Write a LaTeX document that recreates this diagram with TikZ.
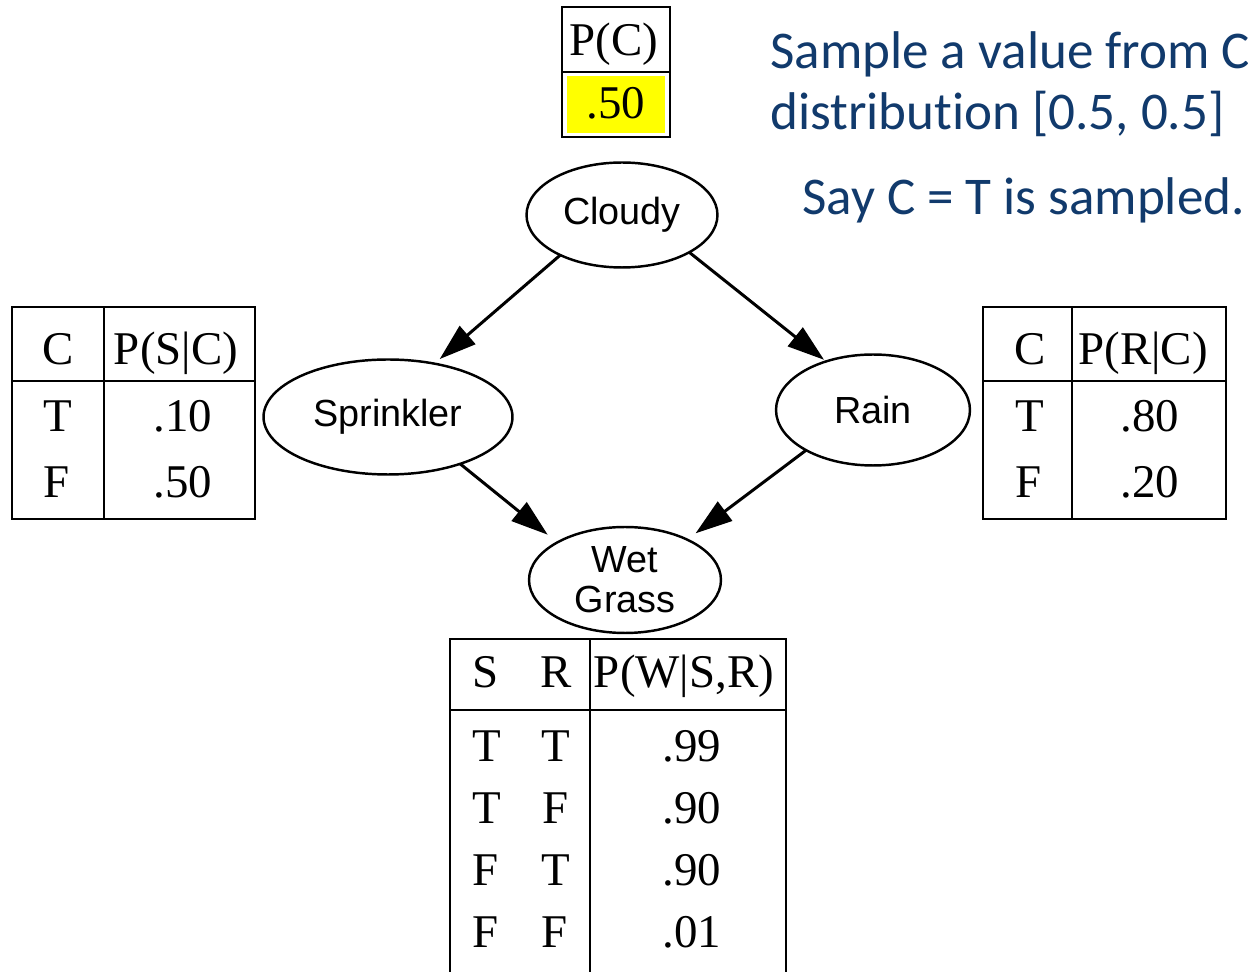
\documentclass[tikz,border=0pt]{standalone}
\usepackage{fontspec}
\setmainfont{Liberation Serif}
\newfontfamily\nodefont{Liberation Sans}
\newfontfamily\notefont[Ligatures=NoCommon]{Carlito}
\usetikzlibrary{arrows.meta,shapes.geometric}
\definecolor{noteblue}{HTML}{113A6C}
\definecolor{cptyellow}{HTML}{FFFF00}

\begin{document}
\begin{tikzpicture}[x=0.02cm,y=-0.02cm,
  var/.style={ellipse, draw, line width=1.4pt, inner sep=0pt, outer sep=0pt,
    font=\nodefont\fontsize{21.5}{22.7}\selectfont, align=center},
  edge/.style={line width=1.7pt, -{Triangle[length=21pt,width=13.5pt]}},
  grid/.style={line width=1.6pt},
  cell/.style={anchor=base, inner sep=0pt, font=\fontsize{26.7}{30}\selectfont},
  note/.style={anchor=base west, inner sep=0pt, text=noteblue,
    font=\notefont\fontsize{30.2}{36}\selectfont}]
\useasboundingbox (0,0) rectangle (1248,972);

% ---- network nodes
\node[var, minimum width=3.82cm, minimum height=2.1cm]  (cloudy)    at (622,215) {Cloudy};
\node[var, minimum width=4.98cm, minimum height=2.3cm]  (sprinkler) at (388,417) {Sprinkler};
\node[var, minimum width=3.88cm, minimum height=2.22cm] (rain)      at (873,410) {Rain};
\node[var, minimum width=3.84cm, minimum height=2.12cm] (wet)       at (625,580) {Wet\\Grass};

% ---- edges
\draw[edge, shorten >=4pt]   (cloudy.213)    -- (sprinkler.49);
\draw[edge, shorten >=1.5pt] (cloudy.-29)    -- (rain.134);
\draw[edge, shorten >=7pt]   (sprinkler.-33) -- (wet.151);
\draw[edge, shorten >=6pt]   (rain.211)      -- (wet.33);

% ---- P(C) table
\fill[cptyellow] (567,76) rectangle (665,133);
\draw[grid] (562,7) rectangle (670,137);
\draw[grid] (562,72) -- (670,72);
\node[cell] (pc)  at (614,56)  {P(C)};
\node[cell] (pc1) at (616,119) {.50};

% ---- P(S|C) table
\draw[grid] (12,307) rectangle (255,519);
\draw[grid] (12,381) -- (255,381);
\draw[grid] (104,307) -- (104,519);
\node[cell] (sh1) at (58,365)  {C};
\node[cell] (sh2) at (176,365) {P(S|C)};
\node[cell] (sa1) at (58,432)  {T};
\node[cell] (sa2) at (183,432) {.10};
\node[cell] (sb1) at (57,498)  {F};
\node[cell] (sb2) at (183,498) {.50};

% ---- P(R|C) table
\draw[grid] (983,307) rectangle (1226,519);
\draw[grid] (983,381) -- (1226,381);
\draw[grid] (1072,307) -- (1072,519);
\node[cell] (rh1) at (1030,365) {C};
\node[cell] (rh2) at (1143,365) {P(R|C)};
\node[cell] (ra1) at (1030,432) {T};
\node[cell] (ra2) at (1150,432) {.80};
\node[cell] (rb1) at (1029,498) {F};
\node[cell] (rb2) at (1150,498) {.20};

% ---- P(W|S,R) table (runs past the lower edge)
\draw[grid] (450,990) -- (450,639) -- (786,639) -- (786,990);
\draw[grid] (450,710) -- (786,710);
\draw[grid] (590,639) -- (590,990);
\node[cell] (wh1) at (486,688) {S};
\node[cell] (wh2) at (556,688) {R};
\node[cell] (wh3) at (684,688) {P(W|S,R)};
\node[cell] (w11) at (487,762) {T};
\node[cell] (w12) at (556,762) {T};
\node[cell] (w13) at (692,762) {.99};
\node[cell] (w21) at (487,824) {T};
\node[cell] (w22) at (556,824) {F};
\node[cell] (w23) at (692,824) {.90};
\node[cell] (w31) at (486,886) {F};
\node[cell] (w32) at (556,886) {T};
\node[cell] (w33) at (692,886) {.90};
\node[cell] (w41) at (486,947) {F};
\node[cell] (w42) at (555,947) {F};
\node[cell] (w43) at (692,947) {.01};

% ---- sampling note
\node[note] (n1) at (770,69)  {Sample a value from C};
\node[note] (n2) at (770,130) {distribution [0.5, 0.5]};
\node[note] (n3) at (802,215) {Say C = T is sampled.};
\end{tikzpicture}
\end{document}
